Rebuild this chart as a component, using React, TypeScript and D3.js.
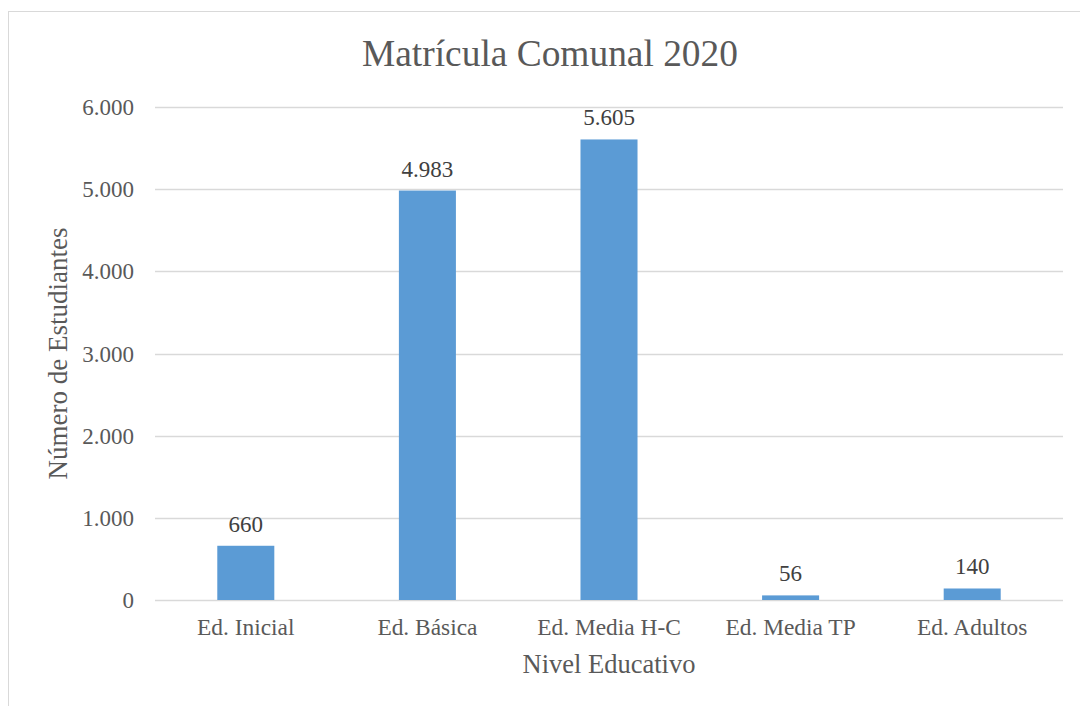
import React, { useEffect, useRef } from 'react';
import * as d3 from 'd3';

const categories = ['Ed. Inicial', 'Ed. Básica', 'Ed. Media H-C', 'Ed. Media TP', 'Ed. Adultos'];
const values = [660, 4983, 5605, 56, 140];
const yTicks = [0, 1000, 2000, 3000, 4000, 5000, 6000];

const chartTitle = 'Matrícula Comunal 2020';
const xTitle = 'Nivel Educativo';
const yTitle = 'Número de Estudiantes';

const width = 1080;
const height = 706;

// thousands separated with a dot, like the Spanish locale
const fmt = (v: number) => d3.format(',')(v).replace(/,/g, '.');

const App = () => {
    const svgRef = useRef<SVGSVGElement>(null);

    useEffect(() => {
        const svg = d3.select(svgRef.current);
        svg.selectAll('*').remove();

        const font = '"Liberation Serif", "Times New Roman", serif';
        const textColor = '#595959';
        const margin = { top: 107, right: 17, bottom: 106, left: 155 };
        const innerWidth = width - margin.left - margin.right;
        const innerHeight = height - margin.top - margin.bottom;

        // outer chart border (only top and left visible)
        svg.append('rect')
            .attr('x', 8.5)
            .attr('y', 11.5)
            .attr('width', width + 20)
            .attr('height', height + 20)
            .attr('fill', '#fff')
            .attr('stroke', '#d9d9d9')
            .attr('stroke-width', 1);

        const g = svg.append('g')
            .attr('transform', `translate(${margin.left},${margin.top})`);

        const xScale = d3.scaleBand()
            .domain(categories)
            .range([0, innerWidth])
            .paddingInner(0.686)
            .paddingOuter(0.343);

        const yScale = d3.scaleLinear()
            .domain([0, 6000])
            .range([innerHeight, 0]);

        // gridlines
        g.selectAll('.grid')
            .data(yTicks)
            .enter()
            .append('line')
            .attr('x1', 0)
            .attr('x2', innerWidth)
            .attr('y1', d => Math.round(yScale(d)) + 0.5)
            .attr('y2', d => Math.round(yScale(d)) + 0.5)
            .attr('stroke', '#d9d9d9')
            .attr('stroke-width', 1.3);

        // y tick labels
        g.selectAll('.ytick')
            .data(yTicks)
            .enter()
            .append('text')
            .attr('x', -21)
            .attr('y', d => yScale(d) + 8)
            .attr('text-anchor', 'end')
            .style('font-family', font)
            .style('font-size', '23px')
            .style('fill', textColor)
            .text(d => fmt(d));

        // bars
        g.selectAll('.bar')
            .data(values)
            .enter()
            .append('rect')
            .attr('x', (d, i) => xScale(categories[i])!)
            .attr('y', d => yScale(d))
            .attr('width', xScale.bandwidth())
            .attr('height', d => innerHeight - yScale(d))
            .attr('fill', '#5b9bd5');

        // value labels
        g.selectAll('.value-label')
            .data(values)
            .enter()
            .append('text')
            .attr('x', (d, i) => xScale(categories[i])! + xScale.bandwidth() / 2)
            .attr('y', d => yScale(d) - 14)
            .attr('text-anchor', 'middle')
            .style('font-family', font)
            .style('font-size', '23px')
            .style('fill', '#404040')
            .text(d => fmt(d));

        // category labels
        g.selectAll('.xtick')
            .data(categories)
            .enter()
            .append('text')
            .attr('x', d => xScale(d)! + xScale.bandwidth() / 2)
            .attr('y', innerHeight + 35)
            .attr('text-anchor', 'middle')
            .style('font-family', font)
            .style('font-size', '23.4px')
            .style('fill', textColor)
            .text(d => d);

        // axis titles
        g.append('text')
            .attr('x', innerWidth / 2)
            .attr('y', innerHeight + 73)
            .attr('text-anchor', 'middle')
            .style('font-family', font)
            .style('font-size', '26.5px')
            .style('fill', textColor)
            .text(xTitle);

        g.append('text')
            .attr('transform', 'rotate(-90)')
            .attr('x', -innerHeight / 2)
            .attr('y', -88)
            .attr('text-anchor', 'middle')
            .style('font-family', font)
            .style('font-size', '27px')
            .style('fill', textColor)
            .text(yTitle);

        // title
        svg.append('text')
            .attr('x', 550)
            .attr('y', 66)
            .attr('text-anchor', 'middle')
            .style('font-family', font)
            .style('font-size', '37.4px')
            .style('fill', textColor)
            .text(chartTitle);
    }, []);

    return (
        <svg
            ref={svgRef}
            width={width}
            height={height}
            style={{ position: 'absolute', left: 0, top: 0, display: 'block' }}
        ></svg>
    );
};

export default App;
